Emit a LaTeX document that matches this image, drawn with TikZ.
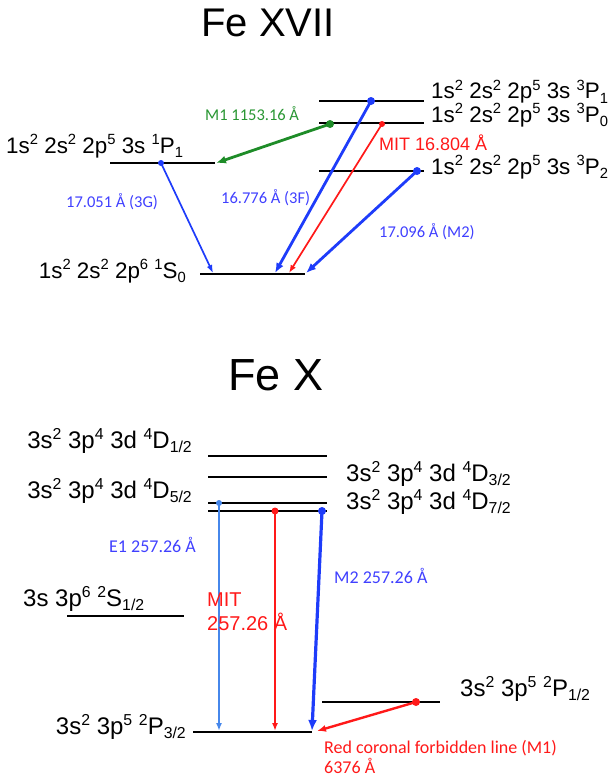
\documentclass[tikz,border=0pt]{standalone}
\usepackage{fontspec}
\usepackage{graphicx}
\setmainfont{Liberation Sans}
\newfontfamily\calib{Carlito}
\usetikzlibrary{arrows.meta}
\newcommand\supx[1]{\raisebox{0.36em}{\scalebox{0.66}{#1}}}
\newcommand\subx[1]{\raisebox{-0.2em}{\scalebox{0.66}{#1}}}
\definecolor{ablue}{RGB}{30,60,250}
\definecolor{tblue}{RGB}{64,64,255}
\definecolor{lblue}{RGB}{70,135,235}
\definecolor{ared}{RGB}{255,25,25}
\definecolor{agreen}{RGB}{30,140,40}
\definecolor{tgreen}{RGB}{40,150,50}
\begin{document}
\begin{tikzpicture}[x=1pt,y=-1pt,
  lvl/.style={line width=2.6pt, black},
  big/.style={font=\fontsize{22.4}{27}\selectfont, inner sep=0pt},
  bigx/.style={font=\fontsize{24}{28}\selectfont, inner sep=0pt},
  sm/.style={font=\calib\fontsize{16.5}{20}\selectfont, inner sep=0pt},
  smx/.style={font=\calib\fontsize{18}{20}\selectfont, inner sep=0pt},
  ttl/.style={font=\fontsize{40}{48}\selectfont, inner sep=0pt, anchor=base},
  thickarr/.style={line width=2.8pt, -{Latex[length=10pt,width=8pt]}},
  thinarr/.style={line width=1.7pt, -{Latex[length=8pt,width=6pt]}}]
\useasboundingbox (0,0) rectangle (613,776);

% ---------------- Fe XVII ----------------
\node[ttl] (t1) at (268,37) {Fe XVII};

\coordinate (P1a) at (319,101); \coordinate (P1b) at (424,101);
\coordinate (P0a) at (319,123); \coordinate (P0b) at (424,123);
\coordinate (P2a) at (319,171); \coordinate (P2b) at (424,171);
\coordinate (sPa) at (110,163); \coordinate (sPb) at (215,163);
\coordinate (Sa) at (200,274); \coordinate (Sb) at (305,274);
\draw[lvl] (P1a) -- (P1b);
\draw[lvl] (P0a) -- (P0b);
\draw[lvl] (P2a) -- (P2b);
\draw[lvl] (sPa) -- (sPb);
\draw[lvl] (Sa) -- (Sb);

\node[big, anchor=base west] (lP1) at (431,99) {1s\supx{2} 2s\supx{2} 2p\supx{5} 3s \supx{3}P\subx{1}};
\node[big, anchor=base west] (lP0) at (431,122) {1s\supx{2} 2s\supx{2} 2p\supx{5} 3s \supx{3}P\subx{0}};
\node[big, anchor=base west] (lP2) at (431,174) {1s\supx{2} 2s\supx{2} 2p\supx{5} 3s \supx{3}P\subx{2}};
\node[big, anchor=base west] (lsP) at (6,153) {1s\supx{2} 2s\supx{2} 2p\supx{5} 3s \supx{1}P\subx{1}};
\node[big, anchor=base east] (lS) at (186,278) {1s\supx{2} 2s\supx{2} 2p\supx{6} \supx{1}S\subx{0}};

\coordinate (gA) at (330,124); \coordinate (gB) at (216,163);
\coordinate (b1A) at (161,163); \coordinate (b1B) at (213,273);
\coordinate (b2A) at (371,101); \coordinate (b2B) at (275,273);
\coordinate (rA) at (382,124); \coordinate (rB) at (289,273);
\coordinate (b3A) at (417,171); \coordinate (b3B) at (306,273);

\draw[thickarr, agreen] (gA) -- (gB);
\fill[agreen] (gA) circle (4pt);
\draw[thinarr, ablue] (b1A) -- (b1B);
\fill[ablue] (b1A) circle (3pt);
\draw[thickarr, ablue] (b2A) -- (b2B);
\fill[ablue] (b2A) circle (4pt);
\draw[thinarr, ared] (rA) -- (rB);
\fill[ared] (rA) circle (3pt);
\draw[thickarr, ablue] (b3A) -- (b3B);
\fill[ablue] (b3A) circle (4pt);

\node[sm, tgreen, anchor=base west] (lM1) at (205,120) {M1 1153.16 Å};
\node[sm, tblue, anchor=base west] (l3G) at (66,207) {17.051 Å (3G)};
\node[sm, tblue, anchor=base west] (l3F) at (221,203) {16.776 Å (3F)};
\node[sm, tblue, anchor=base west] (lM2) at (379,237) {17.096 Å (M2)};
\node[font=\fontsize{18}{22}\selectfont, inner sep=0pt, ared, anchor=base west] (lMIT) at (379,150) {MIT 16.804 Å};

% ---------------- Fe X ----------------
\node[ttl, font=\fontsize{45}{54}\selectfont] (t2) at (276,390) {Fe X};

\coordinate (D1a) at (208,456); \coordinate (D1b) at (327,456);
\coordinate (D3a) at (208,477); \coordinate (D3b) at (327,477);
\coordinate (D5a) at (208,503); \coordinate (D5b) at (327,503);
\coordinate (D7a) at (208,511); \coordinate (D7b) at (327,511);
\coordinate (S2a) at (67,616); \coordinate (S2b) at (184,616);
\coordinate (Q1a) at (322,702); \coordinate (Q1b) at (440,702);
\coordinate (Q3a) at (193,732); \coordinate (Q3b) at (312,732);
\draw[lvl] (D1a) -- (D1b);
\draw[lvl] (D3a) -- (D3b);
\draw[lvl] (D5a) -- (D5b);
\draw[lvl] (D7a) -- (D7b);
\draw[lvl] (S2a) -- (S2b);
\draw[lvl] (Q1a) -- (Q1b);
\draw[lvl] (Q3a) -- (Q3b);

\node[bigx, anchor=base east] (lD1) at (192,448) {3s\supx{2} 3p\supx{4} 3d \supx{4}D\subx{1/2}};
\node[bigx, anchor=base west] (lD3) at (346,481) {3s\supx{2} 3p\supx{4} 3d \supx{4}D\subx{3/2}};
\node[bigx, anchor=base east] (lD5) at (192,498) {3s\supx{2} 3p\supx{4} 3d \supx{4}D\subx{5/2}};
\node[bigx, anchor=base west] (lD7) at (346,509) {3s\supx{2} 3p\supx{4} 3d \supx{4}D\subx{7/2}};
\node[bigx, anchor=base west] (lS2) at (23,606) {3s 3p\supx{6} \supx{2}S\subx{1/2}};
\node[bigx, anchor=base west] (lQ1) at (460,696) {3s\supx{2} 3p\supx{5} \supx{2}P\subx{1/2}};
\node[bigx, anchor=base east] (lQ3) at (186,734) {3s\supx{2} 3p\supx{5} \supx{2}P\subx{3/2}};

\coordinate (eA) at (219,503); \coordinate (eB) at (219,731);
\coordinate (mA) at (275,511); \coordinate (mB) at (275,731);
\coordinate (zA) at (322,511); \coordinate (zB) at (312,731);
\coordinate (cA) at (416,702); \coordinate (cB) at (317,731);

\draw[line width=2.2pt, lblue, -{Latex[length=8pt,width=6pt]}] (eA) -- (eB);
\fill[lblue] (eA) circle (3pt);
\draw[line width=1.9pt, ared, -{Latex[length=8pt,width=6pt]}] (mA) -- (mB);
\fill[ared] (mA) circle (3.5pt);
\draw[line width=3.2pt, ablue, -{Latex[length=11pt,width=9pt]}] (zA) -- (zB);
\fill[ablue] (zA) circle (4pt);
\draw[line width=2.4pt, ared, -{Latex[length=9pt,width=7pt]}] (cA) -- (cB);
\fill[ared] (cA) circle (4pt);

\node[smx, tblue, anchor=base west] (lE1) at (109,552) {E1 257.26 Å};
\node[smx, tblue, anchor=base west] (lM2b) at (334,583) {M2 257.26 Å};
\node[font=\fontsize{20}{24}\selectfont, inner sep=0pt, ared, anchor=base west, align=left] (lMIT2) at (207,630) {MIT\\257.26 Å};
\node[smx, ared, anchor=base west, align=left] (lRC) at (324,773) {Red coronal forbidden line (M1)\\6376 Å};
\end{tikzpicture}
\end{document}
